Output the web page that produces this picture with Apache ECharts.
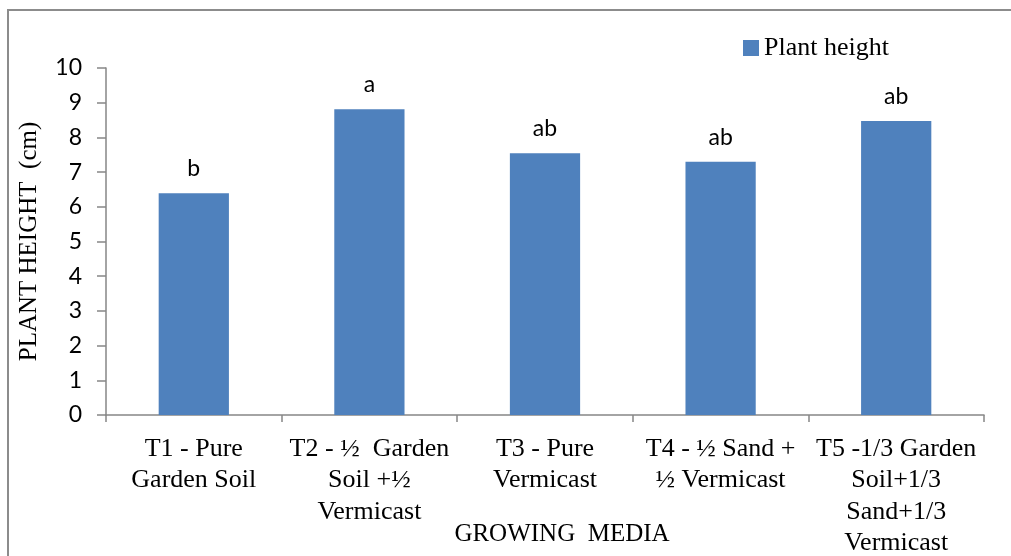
<!DOCTYPE html>
<html>
<head>
<meta charset="utf-8">
<style>
  html, body { margin: 0; padding: 0; background: #fff; }
  #chart { width: 1011px; height: 556px; }
</style>
<script src="https://cdn.jsdelivr.net/npm/echarts@6/dist/echarts.min.js"></script>
</head>
<body>
<div id="chart"></div>
<script>
// Growing media treatments (x-axis categories)
const categories = [
  'T1 - Pure\nGarden Soil',
  'T2 - \u00BD  Garden\nSoil +\u00BD\nVermicast',
  'T3 - Pure\nVermicast',
  'T4 - \u00BD Sand +\n\u00BD Vermicast',
  'T5 -1/3 Garden\nSoil+1/3\nSand+1/3\nVermicast'
];
// Mean plant height (cm)
const plantHeight = [6.39, 8.81, 7.54, 7.30, 8.47];
// Significance groupings shown above each bar
const groupLetters = ['b', 'a', 'ab', 'ab', 'ab'];
// Y-axis range
const yMin = 0, yMax = 10, yStep = 1;

const serif = '"Liberation Serif", "Times New Roman", serif';
const sans = 'Lato, "Open Sans", sans-serif';
const axisGray = '#868686';

const chart = echarts.init(document.getElementById('chart'), null, { renderer: 'canvas' });

chart.setOption({
  animation: false,
  backgroundColor: '#ffffff',
  graphic: [{
    type: 'rect',
    shape: { x: 8, y: 10, width: 1030, height: 580 },
    style: { fill: 'none', stroke: '#8c8c8c', lineWidth: 2 },
    silent: true
  }],
  legend: {
    data: ['Plant height'],
    left: 743,
    top: 35,
    padding: 0,
    itemWidth: 16,
    itemHeight: 16,
    itemGap: 5,
    icon: 'rect',
    textStyle: { fontFamily: serif, fontSize: 26, color: '#000', padding: [0, 0, 0, 0] }
  },
  grid: { left: 106, right: 27, top: 68, bottom: 141, containLabel: false, outerBoundsMode: 'none' },
  xAxis: {
    type: 'category',
    data: categories,
    name: 'GROWING  MEDIA',
    nameLocation: 'middle',
    nameGap: 107,
    nameMoveOverlap: false,
    nameTextStyle: { fontFamily: serif, fontSize: 25, color: '#000', padding: [0, 0, 0, 34] },
    axisLine: { lineStyle: { color: axisGray, width: 1.5 } },
    axisTick: { show: true, alignWithLabel: false, length: 7, lineStyle: { color: axisGray, width: 1.5 } },
    axisLabel: {
      interval: 0,
      margin: 18,
      fontFamily: serif,
      fontSize: 26,
      lineHeight: 31.5,
      color: '#000',
      align: 'center'
    },
    splitLine: { show: false }
  },
  yAxis: {
    type: 'value',
    min: yMin,
    max: yMax,
    interval: yStep,
    name: 'PLANT HEIGHT  (cm)',
    nameLocation: 'middle',
    nameGap: 64,
    nameMoveOverlap: false,
    nameRotate: 90,
    nameTextStyle: { fontFamily: serif, fontSize: 25, color: '#000' },
    axisLine: { show: true, lineStyle: { color: axisGray, width: 1.5 } },
    axisTick: { show: true, length: 9, lineStyle: { color: axisGray, width: 1.5 } },
    axisLabel: { margin: 24, fontFamily: sans, fontSize: 23, color: '#000' },
    splitLine: { show: false }
  },
  series: [{
    name: 'Plant height',
    type: 'bar',
    data: plantHeight,
    barCategoryGap: '60%',
    itemStyle: { color: '#4F81BD' },
    label: {
      show: true,
      position: 'top',
      distance: 13,
      fontFamily: sans,
      fontSize: 23,
      color: '#000',
      formatter: p => groupLetters[p.dataIndex]
    }
  }]
});
</script>
</body>
</html>
